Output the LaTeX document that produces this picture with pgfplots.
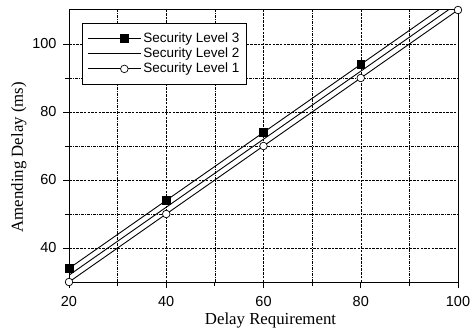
\documentclass[border=0pt]{standalone}
\usepackage{fontspec}
\setmainfont{Liberation Sans}
\newfontfamily\timesfont{Liberation Serif}
\usepackage{pgfplots}
\pgfplotsset{compat=1.18}
\begin{document}
\begin{tikzpicture}
\begin{axis}[
  scale only axis,
  width=389pt, height=272pt,
  xmin=20, xmax=100, ymin=30, ymax=110,
  xtick={20,40,60,80,100},
  ytick={40,60,80,100},
  minor xtick={30,50,70,90},
  minor ytick={30,50,70,90},
  tick align=outside,
  xtick pos=bottom, ytick pos=left,
  major tick length=6pt, minor tick length=4pt,
  every tick/.style={black, line width=0.8pt},
  axis line style={line width=1pt},
  grid=both,
  major grid style={black, line width=0.5pt, dash pattern=on 2.5pt off 1.2pt},
  minor grid style={black, line width=0.5pt, dash pattern=on 3pt off 1pt on 1pt off 1pt},
  /pgf/number format/assume math mode=true,
  tick label style={font=\fontsize{14.5}{16}\selectfont},
  yticklabel style={xshift=-3pt},
  xticklabel style={yshift=-5pt},
  xlabel={\timesfont Delay Requirement},
  ylabel={\timesfont Amending Delay (ms)},
  label style={font=\fontsize{16.8}{18}\selectfont},
  xlabel style={at={(ticklabel cs:0.518)}, yshift=1pt},
  ylabel style={at={(ticklabel cs:0.459)}, yshift=-1pt},
  legend style={at={(axis description cs:0,1)}, anchor=north west, xshift=13pt, yshift=-13pt,
    font=\fontsize{13.5}{16}\selectfont, draw=black, line width=0.8pt, row sep=0pt,
    inner xsep=5pt, inner ysep=7.5pt,
    cells={anchor=west, text height=9.7pt, text depth=0pt, inner ysep=3.65pt, inner xsep=5pt}},
  legend image code/.code={\path (-20pt,0pt) -- (33pt,0pt); \draw[#1, mark indices={2}] plot coordinates {(0pt,0pt) (16.5pt,0pt) (33pt,0pt)};},
  legend cell align=left,
]
\coordinate (ll) at (rel axis cs:0,0);
\coordinate (ur) at (rel axis cs:1,1);
\addplot[black, line width=0.9pt, mark=square*, mark size=3.8pt, mark options={solid, line width=0.5pt}, mark indices={1,2,3,4}]
  coordinates {(20,34) (40,54) (60,74) (80,94) (100,114)};
\addlegendentry{Security Level 3}
\addplot[black, line width=0.9pt]
  coordinates {(20,32) (40,52) (60,72) (80,92) (100,112)};
\addlegendentry{Security Level 2}
\addplot[black, line width=0.9pt, mark=*, mark size=3.8pt, mark options={fill=white, solid, line width=0.7pt}]
  coordinates {(20,30) (40,50) (60,70) (80,90) (100,110)};
\addlegendentry{Security Level 1}
\end{axis}
\pgfresetboundingbox
\path ([shift={(-69pt,-51.3pt)}]ll) rectangle ([shift={(15pt,10pt)}]ur);
\end{tikzpicture}
\end{document}
